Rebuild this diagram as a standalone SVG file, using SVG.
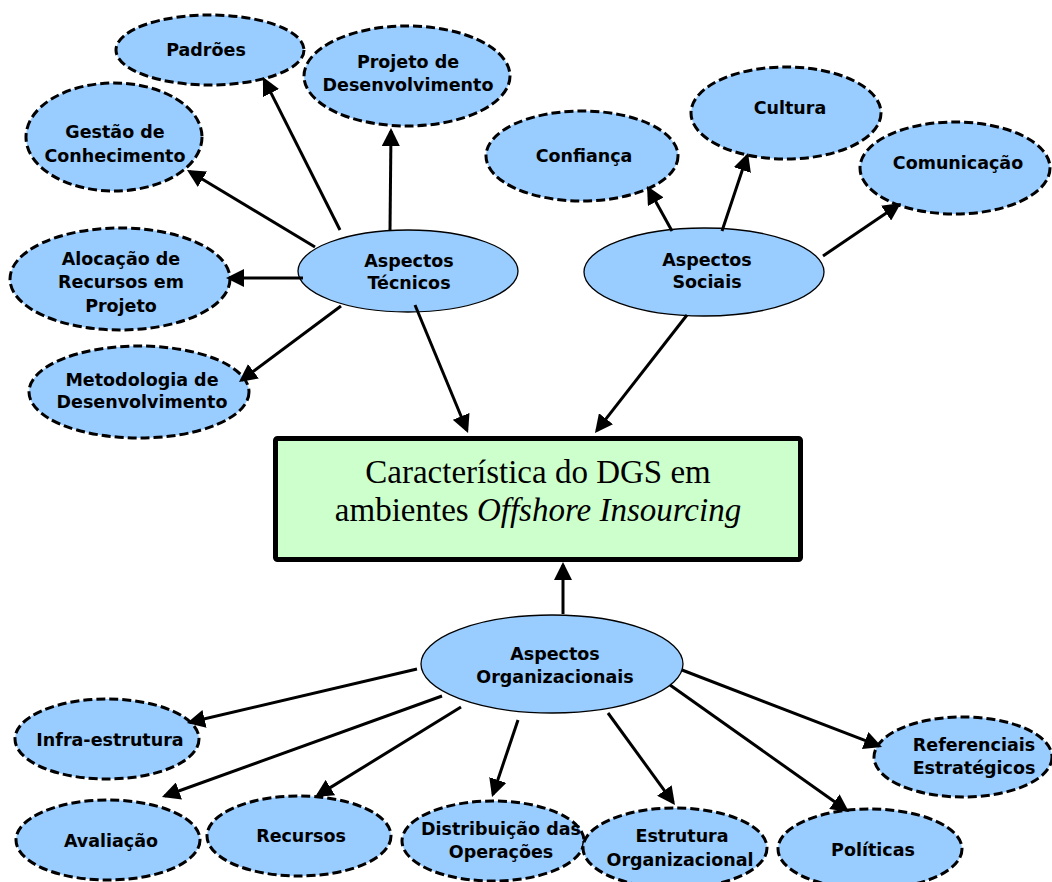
<svg xmlns="http://www.w3.org/2000/svg" width="1052" height="882" viewBox="0 0 1052 882">
  <style>
    .bg { fill: #ffffff; }
    .leaf { fill: #99ccff; stroke: #000000; stroke-width: 3; stroke-dasharray: 9 4; }
    .hub { fill: #99ccff; stroke: #000000; stroke-width: 1.3; }
    .core { fill: #ccffcc; stroke: #000000; stroke-width: 5; }
    .lbl { font-family: "DejaVu Sans", "Verdana", sans-serif; font-weight: bold; font-size: 17.5px; fill: #000000; text-anchor: middle; }
    .title { font-family: "Liberation Serif", "Times New Roman", serif; font-size: 33px; fill: #000000; text-anchor: middle; }
    .edge { fill: none; stroke: #000000; stroke-width: 3; marker-end: url(#arrow); }
  </style>
  <defs>
    <marker id="arrow" markerUnits="userSpaceOnUse" markerWidth="18" markerHeight="18" refX="15" refY="9" orient="auto">
      <path d="M0,0 L18,9 L0,18 z" fill="#000000"/>
    </marker>
  </defs>

  <rect class="bg" x="0" y="0" width="1052" height="882"/>

  <!-- technical aspects cluster -->
  <g id="padroes">
    <ellipse class="leaf" cx="210" cy="50" rx="94" ry="35"/>
    <text class="lbl" x="206" y="56">Padrões</text>
  </g>
  <g id="projeto-desenvolvimento">
    <ellipse class="leaf" cx="407" cy="76" rx="103" ry="50"/>
    <text class="lbl" x="408" y="68">Projeto de</text>
    <text class="lbl" x="408" y="91">Desenvolvimento</text>
  </g>
  <g id="gestao-conhecimento">
    <ellipse class="leaf" cx="114" cy="137" rx="88" ry="54"/>
    <text class="lbl" x="115" y="138">Gestão de</text>
    <text class="lbl" x="115" y="162">Conhecimento</text>
  </g>
  <g id="alocacao-recursos">
    <ellipse class="leaf" cx="120" cy="279" rx="110" ry="51"/>
    <text class="lbl" x="121" y="265">Alocação de</text>
    <text class="lbl" x="121" y="288">Recursos em</text>
    <text class="lbl" x="121" y="312">Projeto</text>
  </g>
  <g id="metodologia">
    <ellipse class="leaf" cx="139" cy="392" rx="110" ry="46"/>
    <text class="lbl" x="142" y="386">Metodologia de</text>
    <text class="lbl" x="142" y="408">Desenvolvimento</text>
  </g>
  <g id="aspectos-tecnicos">
    <ellipse class="hub" cx="408" cy="271" rx="110" ry="41"/>
    <text class="lbl" x="409" y="267">Aspectos</text>
    <text class="lbl" x="409" y="289">Técnicos</text>
  </g>

  <!-- social aspects cluster -->
  <g id="confianca">
    <ellipse class="leaf" cx="582" cy="156" rx="96" ry="45"/>
    <text class="lbl" x="584" y="162">Confiança</text>
  </g>
  <g id="cultura">
    <ellipse class="leaf" cx="786" cy="113" rx="95" ry="46"/>
    <text class="lbl" x="790" y="114">Cultura</text>
  </g>
  <g id="comunicacao">
    <ellipse class="leaf" cx="955" cy="168" rx="95" ry="46"/>
    <text class="lbl" x="958" y="169">Comunicação</text>
  </g>
  <g id="aspectos-sociais">
    <ellipse class="hub" cx="704" cy="272" rx="120" ry="44"/>
    <text class="lbl" x="707" y="266">Aspectos</text>
    <text class="lbl" x="707" y="288">Sociais</text>
  </g>

  <!-- central box -->
  <g id="caracteristica-dgs">
    <rect class="core" x="275.5" y="438.5" width="525" height="121" rx="2"/>
    <text class="title" x="538" y="483">Característica do DGS em</text>
    <text class="title" x="538" y="521">ambientes <tspan font-style="italic">Offshore Insourcing</tspan></text>
  </g>

  <!-- organizational aspects cluster -->
  <g id="aspectos-organizacionais">
    <ellipse class="hub" cx="552" cy="664" rx="131" ry="49"/>
    <text class="lbl" x="555" y="660">Aspectos</text>
    <text class="lbl" x="555" y="683">Organizacionais</text>
  </g>
  <g id="infra-estrutura">
    <ellipse class="leaf" cx="107" cy="739" rx="92" ry="40"/>
    <text class="lbl" x="110" y="746">Infra-estrutura</text>
  </g>
  <g id="avaliacao">
    <ellipse class="leaf" cx="108" cy="840" rx="92" ry="40"/>
    <text class="lbl" x="111" y="847">Avaliação</text>
  </g>
  <g id="recursos">
    <ellipse class="leaf" cx="299" cy="836" rx="92" ry="40"/>
    <text class="lbl" x="301" y="842">Recursos</text>
  </g>
  <g id="distribuicao-operacoes">
    <ellipse class="leaf" cx="493" cy="841" rx="91" ry="40"/>
    <text class="lbl" x="501" y="835">Distribuição das</text>
    <text class="lbl" x="501" y="858">Operações</text>
  </g>
  <g id="estrutura-organizacional">
    <ellipse class="leaf" cx="675" cy="848" rx="92" ry="40"/>
    <text class="lbl" x="682" y="842">Estrutura</text>
    <text class="lbl" x="680" y="866">Organizacional</text>
  </g>
  <g id="politicas">
    <ellipse class="leaf" cx="870" cy="849" rx="92" ry="40"/>
    <text class="lbl" x="873" y="856">Políticas</text>
  </g>
  <g id="referenciais-estrategicos">
    <ellipse class="leaf" cx="963" cy="757" rx="89" ry="40"/>
    <text class="lbl" x="974" y="751">Referenciais</text>
    <text class="lbl" x="974" y="774">Estratégicos</text>
  </g>

  <!-- connectors -->
  <g id="connectors">
    <line class="edge" x1="340" y1="230" x2="264.3" y2="79.7"/>
    <line class="edge" x1="390" y1="230" x2="391" y2="131"/>
    <line class="edge" x1="315" y1="247" x2="189.6" y2="171.5"/>
    <line class="edge" x1="303" y1="278" x2="229" y2="278"/>
    <line class="edge" x1="341" y1="306" x2="241.4" y2="380.2"/>
    <line class="edge" x1="415" y1="305" x2="466.9" y2="430.2"/>

    <line class="edge" x1="672" y1="231" x2="648.5" y2="188.6"/>
    <line class="edge" x1="722" y1="231" x2="747.1" y2="155.8"/>
    <line class="edge" x1="823" y1="256" x2="898.5" y2="204.7"/>
    <line class="edge" x1="687" y1="315" x2="596.8" y2="430.6"/>

    <line class="edge" x1="563" y1="614" x2="563" y2="565"/>
    <line class="edge" x1="417" y1="669" x2="189.9" y2="722.3"/>
    <line class="edge" x1="442" y1="696" x2="164.8" y2="796"/>
    <line class="edge" x1="461" y1="707" x2="317.6" y2="795.4"/>
    <line class="edge" x1="518" y1="720" x2="493" y2="794.2"/>
    <line class="edge" x1="608" y1="713" x2="673.2" y2="802.6"/>
    <line class="edge" x1="670" y1="685" x2="846.6" y2="810.3"/>
    <line class="edge" x1="682" y1="670" x2="879.2" y2="745.9"/>
  </g>
</svg>
